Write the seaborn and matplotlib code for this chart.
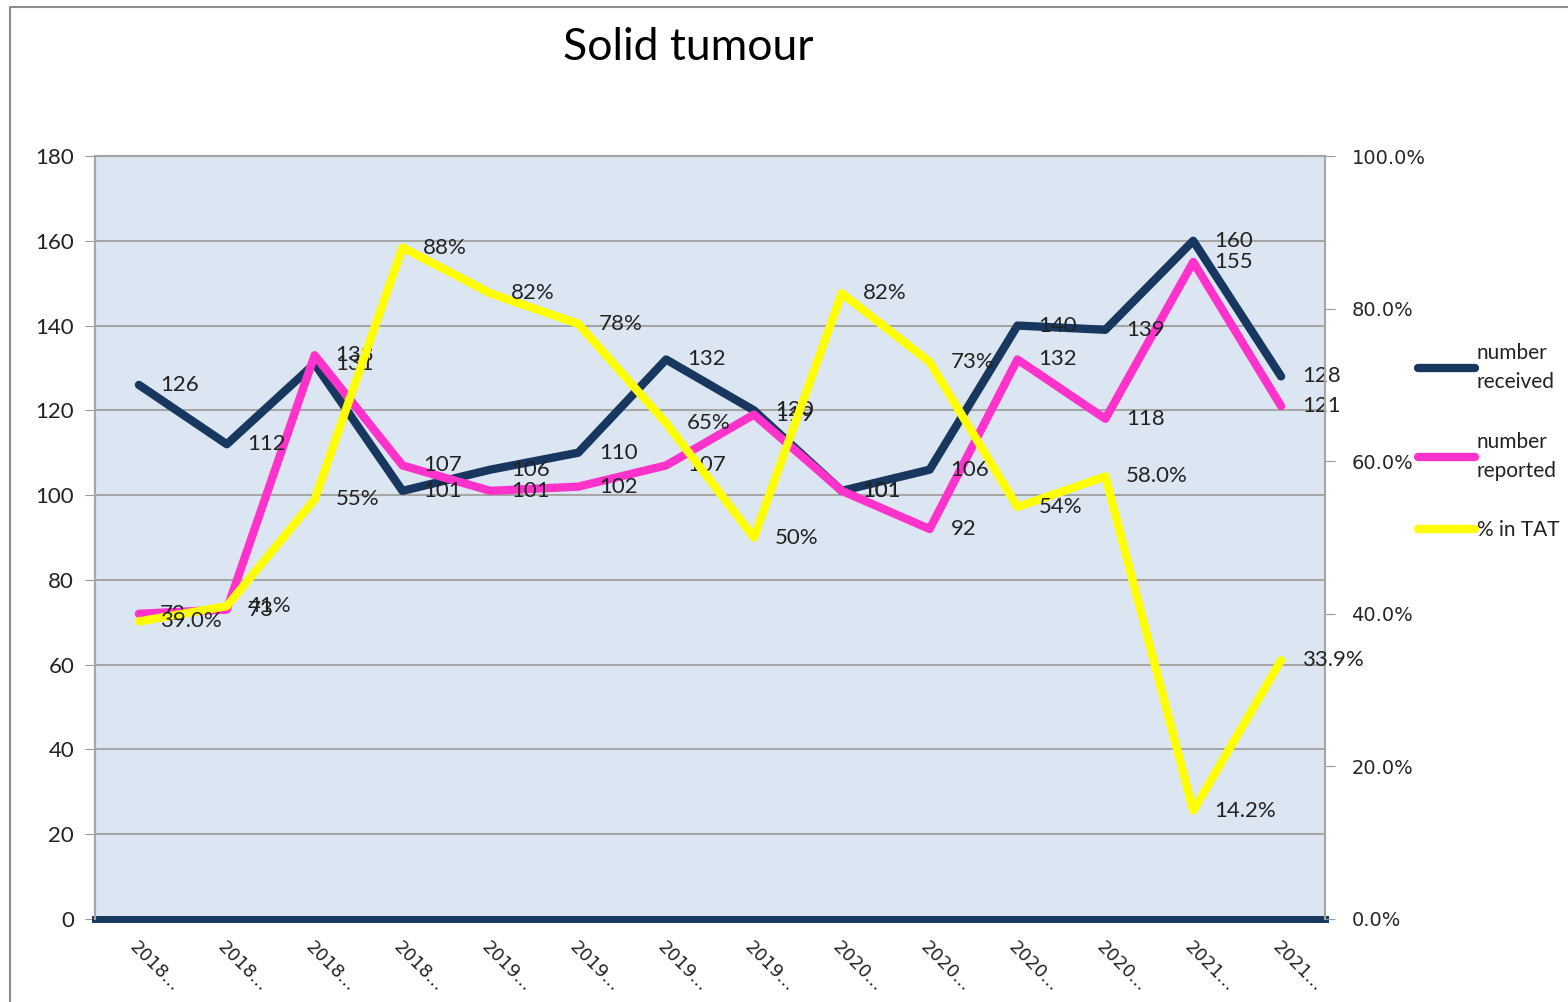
import matplotlib
matplotlib.use("Agg")
import seaborn as sns
from matplotlib import pyplot as plt
from matplotlib.lines import Line2D
from matplotlib.ticker import PercentFormatter

# Data
periods = ["2018...", "2018...", "2018...", "2018...",
           "2019...", "2019...", "2019...", "2019...",
           "2020...", "2020...", "2020...", "2020...",
           "2021...", "2021..."]
received = [126, 112, 131, 101, 106, 110, 132, 120, 101, 106, 140, 139, 160, 128]
reported = [72, 73, 133, 107, 101, 102, 107, 119, 101, 92, 132, 118, 155, 121]
pct_tat = [39.0, 41, 55, 88, 82, 78, 65, 50, 82, 73, 54, 58.0, 14.2, 33.9]
pct_labels = ["39.0%", "41%", "55%", "88%", "82%", "78%", "65%", "50%",
              "82%", "73%", "54%", "58.0%", "14.2%", "33.9%"]

navy = "#17375E"
pink = "#FF33CC"
yellow = "#FFFF00"

sns.set_style("white")
plt.rcParams["font.family"] = ["Lato", "DejaVu Sans"]

fig = plt.figure(figsize=(15.68, 10.02), dpi=100)
ax = fig.add_axes([95 / 1568, 1 - 919 / 1002, 1230 / 1568, 763 / 1002])
ax.set_facecolor("#DCE6F2")
ax2 = ax.twinx()

xs = list(range(len(periods)))

# lines
sns.lineplot(x=xs, y=received, ax=ax, color=navy, linewidth=6, legend=False,
             solid_capstyle="round", zorder=3)
sns.lineplot(x=xs, y=reported, ax=ax, color=pink, linewidth=6, legend=False,
             solid_capstyle="round", zorder=4)
sns.lineplot(x=xs, y=[v / 100 for v in pct_tat], ax=ax2, color=yellow,
             linewidth=6, legend=False, solid_capstyle="round", zorder=5)

# data labels
for x, v in zip(xs, received):
    ax.annotate(str(v), (x, v), xytext=(15, 0), textcoords="offset points",
                va="center", ha="left", fontsize=16, color="#222222", zorder=6)
for x, v in zip(xs, reported):
    ax.annotate(str(v), (x, v), xytext=(15, 0), textcoords="offset points",
                va="center", ha="left", fontsize=16, color="#222222", zorder=6)
for x, v, lab in zip(xs, pct_tat, pct_labels):
    ax2.annotate(lab, (x, v / 100), xytext=(15, 0), textcoords="offset points",
                 va="center", ha="left", fontsize=16, color="#222222", zorder=6)

# axes setup
ax.set_xlim(-0.5, len(periods) - 0.5)
ax.set_ylim(0, 180)
ax.set_yticks(range(0, 181, 20))
ax2.set_ylim(0, 1)
ax2.set_yticks([0, 0.2, 0.4, 0.6, 0.8, 1.0])
ax2.yaxis.set_major_formatter(PercentFormatter(1.0, decimals=1))

ax.set_xticks(xs)
ax.set_xticklabels(periods, rotation=-45, ha="left", va="top",
                   rotation_mode="anchor", fontsize=13, family="DejaVu Sans",
                   color="#222222")
ax.tick_params(axis="x", length=0, pad=14)
ax.tick_params(axis="y", direction="out", length=7, color="#999999",
               labelsize=16, pad=8)
ax2.tick_params(axis="y", direction="out", length=7, color="#999999",
                labelsize=14, pad=12)
for t in ax2.get_yticklabels():
    t.set_family("DejaVu Sans")
for t in ax.get_yticklabels():
    t.set_color("#222222")

ax.yaxis.grid(True, color="#A6A6A6", linewidth=1.5)
ax.set_axisbelow(True)
for sp in ["left", "right", "top"]:
    ax.spines[sp].set_color("#A6A6A6")
    ax2.spines[sp].set_color("#A6A6A6")
    ax.spines[sp].set_linewidth(1.5)
    ax2.spines[sp].set_linewidth(1.5)
ax.spines["bottom"].set_color(navy)
ax.spines["bottom"].set_linewidth(5)
ax2.spines["bottom"].set_visible(False)

# title
fig.text(688 / 1568, 1 - 48 / 1002, "Solid tumour", ha="center", va="center",
         fontsize=32, color="black")

# legend
handles = [Line2D([], [], color=navy, linewidth=6, solid_capstyle="round"),
           Line2D([], [], color=pink, linewidth=6, solid_capstyle="round"),
           Line2D([], [], color=yellow, linewidth=6, solid_capstyle="round")]
leg = fig.legend(handles, ["number\nreceived", "number\nreported", "% in TAT"],
                 loc="upper left", bbox_to_anchor=(1410 / 1568, 1 - 335 / 1002),
                 frameon=False, fontsize=15, handlelength=2.7,
                 handletextpad=0.1, labelspacing=1.9, borderaxespad=0)
for t in leg.get_texts():
    t.set_linespacing(1.55)
    t.set_color("#222222")

# outer chart border
fig.add_artist(Line2D([10 / 1568, 1], [1 - 7 / 1002, 1 - 7 / 1002],
                      color="#8C8C8C", linewidth=1.5))
fig.add_artist(Line2D([10 / 1568, 10 / 1568], [0, 1 - 7 / 1002],
                      color="#8C8C8C", linewidth=1.5))

fig.savefig("out.png", dpi=100)
